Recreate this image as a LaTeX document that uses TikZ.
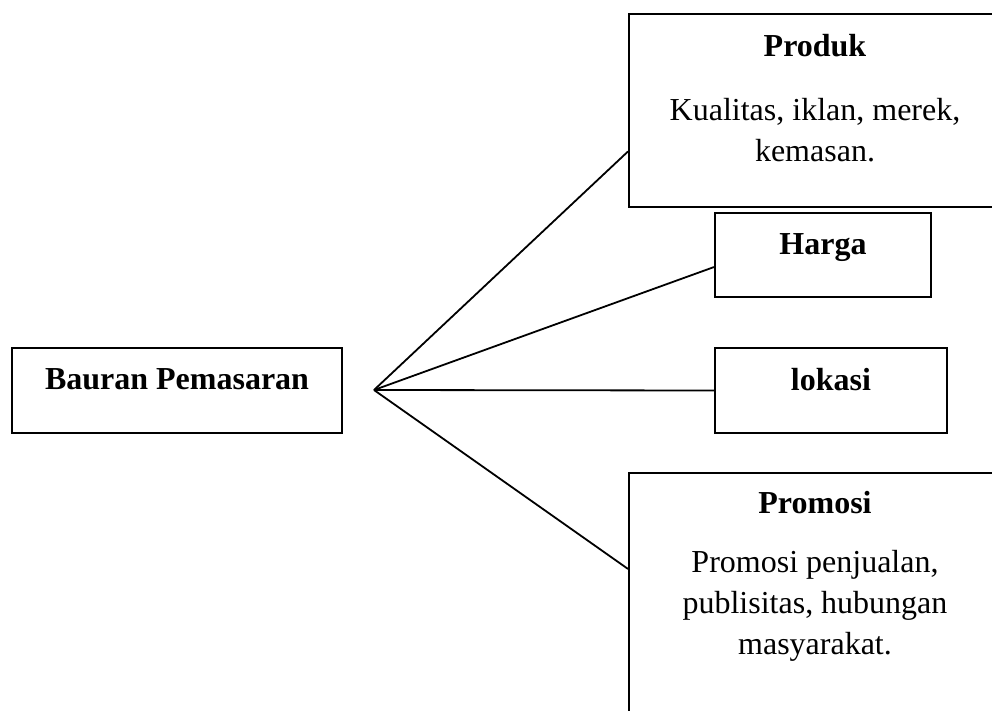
\documentclass[tikz,border=0pt]{standalone}
\usepackage{fontspec}
\setmainfont{Liberation Serif}
\usetikzlibrary{calc}

\begin{document}
\begin{tikzpicture}[
    x=1pt, y=-1pt, line width=1.8pt, color=black,
    box/.style={draw, line width=2pt, rectangle, anchor=north west, inner sep=0pt},
    head/.style={font=\fontsize{32}{41}\selectfont\bfseries},
    body/.style={font=\fontsize{32}{41}\selectfont, align=center}]
  % fixed 992 x 711 canvas
  \path[use as bounding box] (0,0) rectangle (992,711);

  % ================= boxes =================
  \node[box, minimum width=330pt, minimum height=85pt] (bauran) at (11,347) {};
  \node[box, minimum width=372pt, minimum height=193pt] (produk) at (628,13) {};
  \node[box, minimum width=216pt, minimum height=84pt] (harga) at (714,212) {};
  \node[box, minimum width=232pt, minimum height=85pt] (lokasi) at (714,347) {};
  \node[box, minimum width=372pt, minimum height=260pt] (promosi) at (628,472) {};

  % ================= texts =================
  \node[head] (bauranT) at ($(bauran.north)+(0,32)$) {Bauran Pemasaran};
  \node[head] (produkT) at ($(produk.north)+(0,33)$) {Produk};
  \node[body] (produkB) at ($(produk.north)+(0,117)$) {Kualitas, iklan, merek,\\kemasan.};
  \node[head] (hargaT) at ($(harga.north)+(0,36)$) {Harga};
  \node[head] (lokasiT) at ($(lokasi.north)+(0,33)$) {lokasi};
  \node[head] (promosiT) at ($(promosi.north)+(0,31)$) {Promosi};
  \node[body] (promosiB) at ($(promosi.north)+(0,134)$) {Promosi penjualan,\\publisitas, hubungan\\masyarakat.};

  % ================= fan of connectors =================
  \coordinate (fan) at (374,390);
  \draw (fan) -- ($(produk.north west)!0.71!(produk.south west)$);
  \draw (fan) -- ($(harga.north west)!0.64!(harga.south west)$);
  \draw (fan) -- ($(lokasi.north west)!0.5!(lokasi.south west)$);
  \draw (fan) -- ($(promosi.north west)!0.37!(promosi.south west)$);
\end{tikzpicture}
\end{document}
